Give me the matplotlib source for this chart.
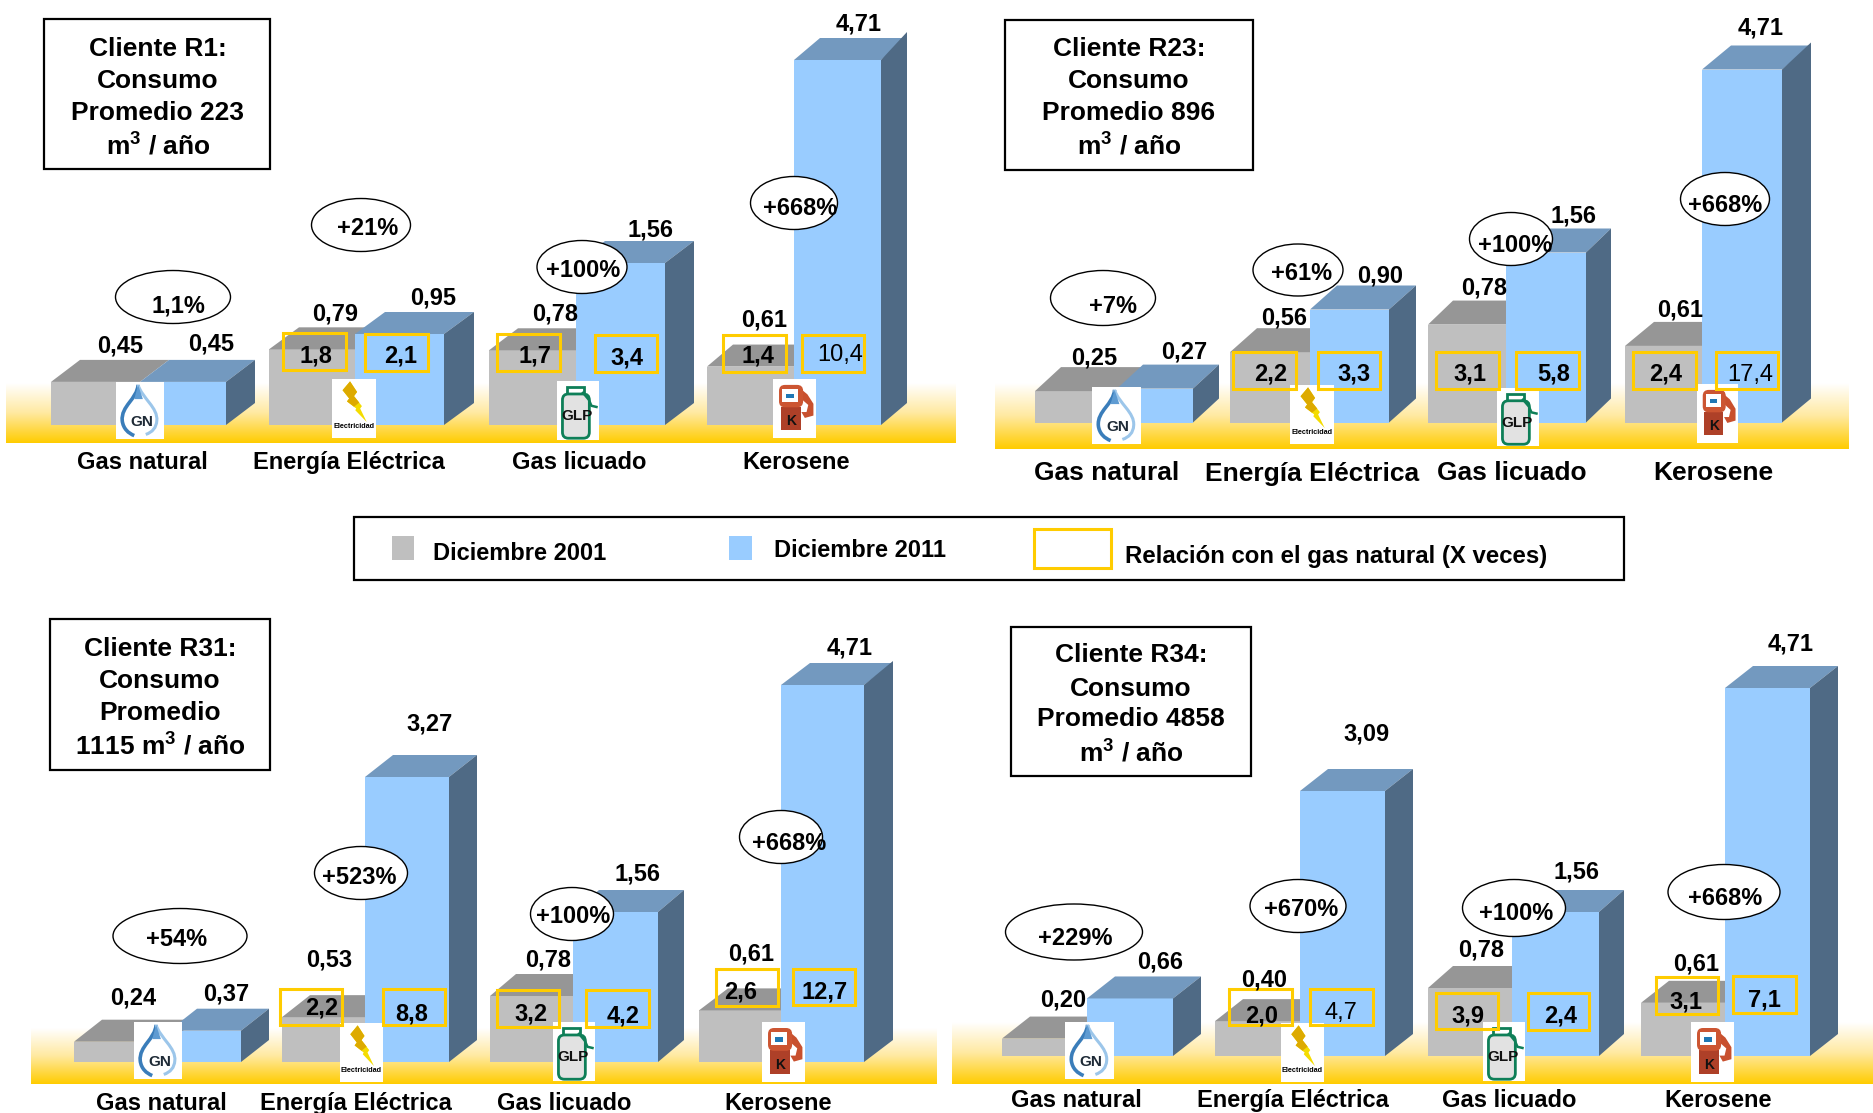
import numpy as np
import matplotlib

matplotlib.use("Agg")
import matplotlib.pyplot as plt
from matplotlib.colors import LinearSegmentedColormap
from matplotlib.patches import Ellipse, FancyBboxPatch, PathPatch, Polygon, Rectangle
from matplotlib.path import Path
from matplotlib.transforms import IdentityTransform

W, H = 1874, 1113

plt.rcParams["font.family"] = ["Liberation Sans", "DejaVu Sans"]
plt.rcParams["mathtext.fontset"] = "custom"
plt.rcParams["mathtext.bf"] = "Liberation Sans:bold"

GREY_FRONT = "#BFBFBF"
GREY_TOP = "#969696"
BLUE_FRONT = "#99CCFF"
BLUE_TOP = "#7399BF"
BLUE_SIDE = "#4F6A85"
GOLD = "#FFCC00"

CUBIC = r"$^{\mathbf{3}}$"

CATEGORIES = ["Gas natural", "Energía Eléctrica", "Gas licuado", "Kerosene"]
LEGEND_LABELS = ["Diciembre 2001", "Diciembre 2011", "Relación con el gas natural (X veces)"]

R1_TITLE = ["Cliente R1:", "Consumo", "Promedio 223", f"m{CUBIC} / año"]
R1_2001 = [0.45, 0.79, 0.78, 0.61]
R1_2011 = [0.45, 0.95, 1.56, 4.71]
R1_CHANGE = ["1,1%", "+21%", "+100%", "+668%"]
R1_RATIO_2001 = [1.8, 1.7, 1.4]
R1_RATIO_2011 = [2.1, 3.4, 10.4]

R23_TITLE = ["Cliente R23:", "Consumo", "Promedio 896", f"m{CUBIC} / año"]
R23_2001 = [0.25, 0.56, 0.78, 0.61]
R23_2011 = [0.27, 0.90, 1.56, 4.71]
R23_CHANGE = ["+7%", "+61%", "+100%", "+668%"]
R23_RATIO_2001 = [2.2, 3.1, 2.4]
R23_RATIO_2011 = [3.3, 5.8, 17.4]

R31_TITLE = ["Cliente R31:", "Consumo", "Promedio", f"1115 m{CUBIC} / año"]
R31_2001 = [0.24, 0.53, 0.78, 0.61]
R31_2011 = [0.37, 3.27, 1.56, 4.71]
R31_CHANGE = ["+54%", "+523%", "+100%", "+668%"]
R31_RATIO_2001 = [2.2, 3.2, 2.6]
R31_RATIO_2011 = [8.8, 4.2, 12.7]

R34_TITLE = ["Cliente R34:", "Consumo", "Promedio 4858", f"m{CUBIC} / año"]
R34_2001 = [0.20, 0.40, 0.78, 0.61]
R34_2011 = [0.66, 3.09, 1.56, 4.71]
R34_CHANGE = ["+229%", "+670%", "+100%", "+668%"]
R34_RATIO_2001 = [2.0, 3.9, 3.1]
R34_RATIO_2011 = [4.7, 2.4, 7.1]

# these three are set in regular weight in the original
THIN_RATIOS = {10.4, 17.4, 4.7}

# everything below is in image pixels, y measured from the top
R1_LAYOUT = dict(
    base=425, scale=([0, 0.95, 1.56, 4.71], [0, 91, 162, 365]),
    depth_x=[29, 30, 29, 26], depth_y=22, side_rise=[0, 0, 0, 6],
    grey_x=[51, 269, 489, 707], blue_x=[140, 355, 576, 794], blue_end=[226, 444, 665, 881],
    band=(6, 956, 383, 443),
    box=(44, 270, 19, 169), title_x=158, title_y=[48, 80, 112, 144], title_size=19,
    cat_x=[142, 349, 579, 796], cat_y=461, cat_size=17,
    label_2001=[(120, 344), (335, 312), (555, 313), (764, 318)],
    label_2011=[(211, 343), (433, 297), (651, 229), (859, 22)],
    ellipses=[(173, 297, 115, 53, 178, 304), (361, 225, 99, 53, 368, 227),
              (582, 267, 90, 53, 583, 269), (794, 203, 87, 53, 800, 207)],
    gold_2001=[(283, 346, 333, 370, 316, 354), (497, 560, 334, 371, 535, 354), (723, 786, 335, 372, 758, 354)],
    gold_2011=[(365, 428, 334, 371, 401, 354), (595, 657, 335, 372, 627, 356), (802, 864, 335, 372, 840, 353)],
    icons=[(116, 164, 382, 439), (332, 376, 379, 438), (557, 599, 381, 440), (773, 816, 379, 438)],
)
R23_LAYOUT = dict(
    base=422.5, scale=([0, 0.90, 1.56, 4.71], [0, 113, 170, 353]),
    depth_x=[26, 27, 25, 29], depth_y=24, side_rise=[0, 0, 0, 3],
    grey_x=[1035, 1230, 1428, 1625], blue_x=[1117, 1310, 1506, 1702], blue_end=[1193, 1389, 1586, 1782],
    band=(995, 1849, 383, 449),
    box=(1005, 1253, 20, 170), title_x=1129, title_y=[48, 80, 112, 144], title_size=19,
    cat_x=[1107, 1312, 1512, 1713], cat_y=472, cat_size=19,
    label_2001=[(1094, 356), (1284, 317), (1484, 287), (1680, 308)],
    label_2011=[(1184, 350), (1380, 275), (1574, 214), (1761, 27)],
    ellipses=[(1103, 298, 105, 55, 1113, 305), (1298, 270, 90, 52, 1302, 272),
              (1511, 239, 83, 53, 1515, 244), (1725, 199, 89, 53, 1725, 204)],
    gold_2001=[(1233, 1296, 352, 389, 1271, 373), (1436, 1499, 352, 389, 1470, 373), (1633, 1696, 352, 389, 1666, 373)],
    gold_2011=[(1318, 1380, 352, 389, 1354, 373), (1516, 1579, 352, 389, 1554, 373), (1716, 1778, 352, 389, 1750, 374)],
    icons=[(1092, 1141, 387, 444), (1290, 1334, 385, 444), (1497, 1539, 388, 446), (1697, 1738, 384, 443)],
)
R31_LAYOUT = dict(
    base=1062, scale=([0, 0.78, 1.56, 3.27, 4.71], [0, 66, 150, 285, 377]),
    depth_x=[28, 28, 26, 29], depth_y=22, side_rise=[0, 0, 0, 2],
    grey_x=[74, 282, 490, 699], blue_x=[169, 365, 573, 781], blue_end=[241, 449, 658, 864],
    band=(31, 937, 1028, 1084),
    box=(50, 270, 619, 770), title_x=160, title_y=[648, 680, 712, 744], title_size=19,
    cat_x=[161, 356, 564, 778], cat_y=1102, cat_size=17,
    label_2001=[(133, 997), (329, 959), (548, 958), (751, 952)],
    label_2011=[(226, 992), (430, 722), (638, 872), (850, 647)],
    ellipses=[(180, 936, 134, 55, 177, 938), (361, 873, 93, 53, 359, 876),
              (572, 914, 83, 53, 573, 915), (781, 837, 83, 53, 789, 842)],
    gold_2001=[(280, 342, 989, 1025, 322, 1007), (497, 559, 990, 1027, 531, 1012), (716, 778, 969, 1006, 741, 991)],
    gold_2011=[(383, 445, 989, 1025, 412, 1012), (586, 649, 990, 1027, 623, 1015), (793, 855, 969, 1005, 825, 991)],
    icons=[(134, 182, 1022, 1079), (340, 383, 1023, 1082), (553, 595, 1022, 1081), (762, 805, 1022, 1082)],
)
R34_LAYOUT = dict(
    base=1056, scale=([0, 0.78, 1.56, 3.09, 4.71], [0, 68, 144, 265, 368]),
    depth_x=[28, 28, 25, 28], depth_y=22, side_rise=[0, 0, 0, 0],
    grey_x=[1002, 1215, 1428, 1641], blue_x=[1087, 1300, 1512, 1725], blue_end=[1173, 1385, 1599, 1810],
    band=(952, 1874, 1022, 1084),
    box=(1011, 1251, 627, 776), title_x=1131, title_y=[654, 687, 718, 751], title_size=19,
    cat_x=[1076, 1293, 1509, 1718], cat_y=1099, cat_size=17,
    label_2001=[(1063, 999), (1264, 979), (1481, 949), (1696, 963)],
    label_2011=[(1160, 960), (1366, 733), (1577, 871), (1791, 642)],
    ellipses=[(1074, 932, 137, 56, 1075, 937), (1298, 906, 96, 53, 1301, 908),
              (1514, 908, 103, 57, 1516, 912), (1724, 892, 112, 55, 1725, 897)],
    gold_2001=[(1229, 1292, 989, 1025, 1262, 1014), (1436, 1498, 993, 1029, 1468, 1015), (1656, 1718, 977, 1014, 1686, 1001)],
    gold_2011=[(1310, 1373, 989, 1025, 1341, 1012), (1528, 1589, 993, 1030, 1561, 1015), (1733, 1796, 976, 1013, 1764, 998)],
    icons=[(1065, 1114, 1022, 1079), (1281, 1324, 1023, 1082), (1483, 1525, 1022, 1081), (1691, 1734, 1022, 1082)],
)


def comma(value, decimals):
    return f"{value:.{decimals}f}".replace(".", ",")


def label(ax, x, y, text, size=17, weight="bold", ha="center"):
    ax.text(x, y + 1.5, text, fontsize=size, fontweight=weight, ha=ha, va="center", color="black", zorder=8)


def draw_bar(ax, x, width, value, depth, front, top, side=None, rise=0):
    ax.bar(x, value, width, align="edge", color=front, linewidth=0, zorder=2)
    # the 3D faces sit a fixed pixel offset behind the front face
    (x0, y0), (x1, y1) = ax.transData.transform([(x, value), (x + width, value)])
    _, yb = ax.transData.transform((x, 0))
    dx, dy = depth
    ident = IdentityTransform()
    ax.add_patch(Polygon([(x0, y0), (x1, y1), (x1 + dx, y1 + dy), (x0 + dx, y0 + dy)],
                         transform=ident, color=top, lw=0, clip_on=False, zorder=2))
    if side:
        ax.add_patch(Polygon([(x1, y1), (x1 + dx, y1 + dy + rise), (x1 + dx, yb + dy), (x1, yb)],
                             transform=ident, color=side, lw=0, clip_on=False, zorder=2))


def draw_bars(fig, layout, values_2001, values_2011):
    x0, x1 = layout["grey_x"][0], layout["blue_end"][-1] + 40
    knots_v, knots_px = layout["scale"]
    ax = fig.add_axes([x0 / W, 1 - layout["base"] / H, (x1 - x0) / W, knots_px[-1] / H], zorder=1)
    ax.patch.set_alpha(0)
    # bars in the source are not on one linear scale: tall ones are squeezed
    ax.set_yscale("function", functions=(lambda v: np.interp(v, knots_v, knots_px),
                                         lambda p: np.interp(p, knots_px, knots_v)))
    ax.set_xlim(x0, x1)
    ax.set_ylim(0, knots_v[-1])
    ax.axis("off")
    for i in range(len(values_2001)):
        gx, bx, be = layout["grey_x"][i], layout["blue_x"][i], layout["blue_end"][i]
        depth = (layout["depth_x"][i], layout["depth_y"])
        draw_bar(ax, gx, bx - gx, values_2001[i], depth, GREY_FRONT, GREY_TOP)
        draw_bar(ax, bx, be - bx, values_2011[i], depth, BLUE_FRONT, BLUE_TOP, BLUE_SIDE, layout["side_rise"][i])


def icon_point(box):
    x0, x1, y0, y1 = box
    return lambda a, b: (x0 + a * (x1 - x0), y0 + b * (y1 - y0))


def icon_gas(ax, box):
    pt = icon_point(box)
    left = [pt(.46, .05), pt(.44, .30), pt(.10, .42), pt(.13, .68), pt(.15, .82), pt(.26, .90), pt(.38, .94)]
    right = [pt(.46, .05), pt(.54, .28), pt(.88, .45), pt(.85, .68), pt(.84, .80), pt(.76, .88), pt(.62, .92)]
    codes = [Path.MOVETO] + [Path.CURVE4] * 6
    ax.add_patch(PathPatch(Path(left, codes), fc="none", ec="#3A7DBA", lw=2.6, zorder=6))
    ax.add_patch(PathPatch(Path(right, codes), fc="none", ec="#9CC6EA", lw=2.2, zorder=6))
    ax.add_patch(Polygon([pt(.46, .05), pt(.38, .30), pt(.56, .30)], fc="#5E9BD2", ec="none", zorder=6))
    ax.text(*pt(.53, .71), "GN", fontsize=11, fontweight="bold", color="#1E2A36",
            ha="center", va="center", zorder=7)


def icon_power(ax, box):
    pt = icon_point(box)
    bolt = [pt(.41, .04), pt(.24, .19), pt(.39, .33), pt(.34, .38), pt(.55, .50), pt(.53, .53),
            pt(.79, .73), pt(.64, .50), pt(.68, .46), pt(.50, .29), pt(.57, .22)]
    upper = [pt(.41, .04), pt(.24, .19), pt(.39, .33), pt(.34, .38), pt(.50, .47), pt(.62, .40),
             pt(.50, .29), pt(.57, .22)]
    ax.add_patch(Polygon(bolt, fc="#F4DC00", ec="none", zorder=6))
    ax.add_patch(Polygon(upper, fc="#DDAA00", ec="none", zorder=6))
    ax.text(*pt(.5, .81), "Electricidad", fontsize=5.2, fontweight="bold",
            ha="center", va="center", color="black", zorder=7)


def icon_bottle(ax, box):
    pt = icon_point(box)
    x0, x1, y0, y1 = box
    green = "#0E7F58"
    nx, ny = pt(.25, .11)
    ax.add_patch(Rectangle((nx, ny), .39 * (x1 - x0), .11 * (y1 - y0), fc="white", ec=green, lw=2, zorder=6))
    bx, by = pt(.13, .22)
    ax.add_patch(FancyBboxPatch((bx + 5, by + 5), .64 * (x1 - x0) - 10, .75 * (y1 - y0) - 10,
                                boxstyle="round,pad=5,rounding_size=6", fc="#E2E2E2", ec=green, lw=2, zorder=6))
    ax.plot(*zip(pt(.62, .20), pt(.76, .32), pt(.82, .42), pt(.94, .44)), color=green, lw=1.8, zorder=6)
    ax.text(*pt(.48, .60), "GLP", fontsize=11, fontweight="bold", ha="center", va="center", color="#111111", zorder=7)


def icon_pump(ax, box):
    pt = icon_point(box)
    x0, x1, y0, y1 = box
    ax.add_patch(Polygon([pt(.60, .14), pt(.80, .26), pt(.94, .42), pt(.94, .62), pt(.74, .66), pt(.66, .56),
                          pt(.78, .56), pt(.82, .44), pt(.60, .30)], fc="#C8502E", ec="none", zorder=6))
    ax.add_patch(Rectangle(pt(.18, .47), .46 * (x1 - x0), .39 * (y1 - y0), fc="#AE4028", ec="none", zorder=6))
    hx, hy = pt(.14, .10)
    ax.add_patch(FancyBboxPatch((hx + 4, hy + 4), .56 * (x1 - x0) - 8, .38 * (y1 - y0) - 8,
                                boxstyle="round,pad=4,rounding_size=6", fc="#CC5532", ec="none", zorder=6))
    ax.add_patch(Rectangle(pt(.21, .17), .38 * (x1 - x0), .22 * (y1 - y0), fc="white", ec="none", zorder=6))
    ax.add_patch(Rectangle(pt(.31, .25), .19 * (x1 - x0), .08 * (y1 - y0), fc="#1F77B4", ec="none", zorder=6))
    ax.text(*pt(.41, .71), "K", fontsize=10, fontweight="bold", ha="center", va="center", color="#111111", zorder=7)


ICONS = [icon_gas, icon_power, icon_bottle, icon_pump]


def draw_panel(fig, back, over, layout, title, values_2001, values_2011, change, ratio_2001, ratio_2011, band_cmap):
    bx0, bx1, by0, by1 = layout["band"]
    back.imshow(np.linspace(0, 1, 128).reshape(-1, 1), cmap=band_cmap, aspect="auto",
                extent=(bx0, bx1, by1, by0), zorder=1)

    draw_bars(fig, layout, values_2001, values_2011)

    x0, x1, y0, y1 = layout["box"]
    over.add_patch(Rectangle((x0, y0), x1 - x0, y1 - y0, fc="white", ec="black", lw=1.6, zorder=3))
    for line, y in zip(title, layout["title_y"]):
        label(over, layout["title_x"], y, line, size=layout["title_size"])

    for cat, x in zip(CATEGORIES, layout["cat_x"]):
        label(over, x, layout["cat_y"], cat, size=layout["cat_size"])

    for v, (x, y) in zip(values_2001, layout["label_2001"]):
        label(over, x, y, comma(v, 2))
    for v, (x, y) in zip(values_2011, layout["label_2011"]):
        label(over, x, y, comma(v, 2))

    for text, (cx, cy, w, h, tx, ty) in zip(change, layout["ellipses"]):
        over.add_patch(Ellipse((cx, cy), w, h, fc="white", ec="black", lw=1, zorder=5))
        label(over, tx, ty, text)

    for draw_icon, box in zip(ICONS, layout["icons"]):
        x0, x1, y0, y1 = box
        over.add_patch(Rectangle((x0, y0), x1 - x0, y1 - y0, fc="white", ec="none", zorder=5))
        draw_icon(over, box)

    ratios = list(ratio_2001) + list(ratio_2011)
    boxes = layout["gold_2001"] + layout["gold_2011"]
    for v, (x0, x1, y0, y1, tx, ty) in zip(ratios, boxes):
        over.add_patch(Rectangle((x0, y0), x1 - x0, y1 - y0, fc="none", ec=GOLD, lw=2.2, zorder=7))
        label(over, tx, ty, comma(v, 1), weight="normal" if v in THIN_RATIOS else "bold")


def draw_legend(over):
    over.add_patch(Rectangle((354, 517), 1270, 63, fc="white", ec="black", lw=1.6, zorder=3))
    over.add_patch(Rectangle((392, 536), 22, 24, fc=GREY_FRONT, ec="none", zorder=4))
    label(over, 433, 552, LEGEND_LABELS[0], ha="left")
    over.add_patch(Rectangle((729, 536), 23, 24, fc=BLUE_FRONT, ec="none", zorder=4))
    label(over, 774, 549, LEGEND_LABELS[1], ha="left")
    over.add_patch(Rectangle((1034, 529), 77, 39, fc="none", ec=GOLD, lw=2.2, zorder=4))
    label(over, 1125, 555, LEGEND_LABELS[2], size=17.3, ha="left")


fig = plt.figure(figsize=(W / 100, H / 100), dpi=100, facecolor="white")

back = fig.add_axes([0, 0, 1, 1], zorder=0)
over = fig.add_axes([0, 0, 1, 1], zorder=2)
for pixel_ax in (back, over):
    pixel_ax.set_xlim(0, W)
    pixel_ax.set_ylim(H, 0)
    pixel_ax.axis("off")
over.patch.set_alpha(0)

band_cmap = LinearSegmentedColormap.from_list("band", ["#FFFFFF", "#FFE9A0", GOLD])

draw_panel(fig, back, over, R1_LAYOUT, R1_TITLE, R1_2001, R1_2011, R1_CHANGE, R1_RATIO_2001, R1_RATIO_2011, band_cmap)
draw_panel(fig, back, over, R23_LAYOUT, R23_TITLE, R23_2001, R23_2011, R23_CHANGE, R23_RATIO_2001, R23_RATIO_2011, band_cmap)
draw_panel(fig, back, over, R31_LAYOUT, R31_TITLE, R31_2001, R31_2011, R31_CHANGE, R31_RATIO_2001, R31_RATIO_2011, band_cmap)
draw_panel(fig, back, over, R34_LAYOUT, R34_TITLE, R34_2001, R34_2011, R34_CHANGE, R34_RATIO_2001, R34_RATIO_2011, band_cmap)
draw_legend(over)

# imshow resets the limits of the pixel axes
back.set_xlim(0, W)
back.set_ylim(H, 0)

fig.savefig("out.png", dpi=100)
plt.close(fig)
